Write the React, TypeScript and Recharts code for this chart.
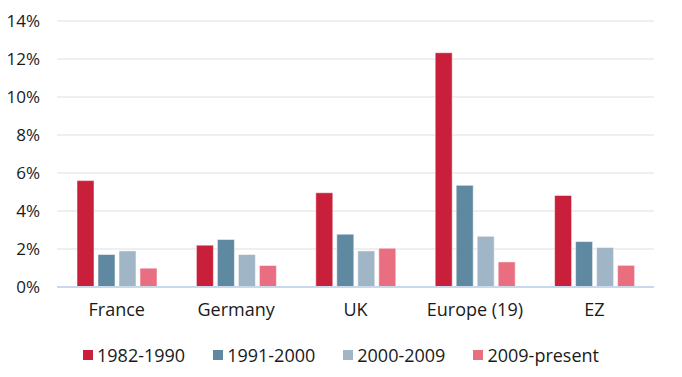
import { Bar, BarChart, CartesianGrid, Legend, XAxis, YAxis } from "recharts";

const categories = ["France", "Germany", "UK", "Europe (19)", "EZ"];
const p1982 = [5.6, 2.2, 4.96, 12.33, 4.82];
const p1991 = [1.71, 2.5, 2.78, 5.35, 2.39];
const p2000 = [1.9, 1.71, 1.9, 2.67, 2.08];
const p2009 = [0.99, 1.13, 2.04, 1.32, 1.14];
const yTicks = [0, 2, 4, 6, 8, 10, 12, 14];

const series = [
  { key: "a", name: "1982-1990", color: "#c8203a" },
  { key: "b", name: "1991-2000", color: "#5f88a1" },
  { key: "c", name: "2000-2009", color: "#a0b6c6" },
  { key: "d", name: "2009-present", color: "#e86e80" },
];

const data = categories.map((c, i) => ({ name: c, a: p1982[i], b: p1991[i], c: p2000[i], d: p2009[i] }));

const font = "'Open Sans', sans-serif";

function LegendBox() {
  return (
    <div style={{ display: "flex", justifyContent: "center", fontFamily: font, fontSize: 18, color: "#1a1a1a", lineHeight: "24px" }}>
      {series.map((s) => (
        <div key={s.key} style={{ display: "flex", alignItems: "center", margin: "0 14px" }}>
          <span style={{ width: 10, height: 10, background: s.color, marginRight: 4, display: "inline-block" }} />
          {s.name}
        </div>
      ))}
    </div>
  );
}

export default function App() {
  return (
    <div style={{ position: "absolute", left: 0, top: 0, background: "#fff" }}>
      <BarChart width={682} height={377} data={data} margin={{ top: 21, right: 28, left: 0, bottom: 10 }} barSize={17} barGap={4}>
        <CartesianGrid vertical={false} stroke="#efefef" strokeWidth={2} />
        <XAxis
          dataKey="name"
          tickLine={false}
          axisLine={{ stroke: "#c9d9ec", strokeWidth: 2 }}
          tickSize={0}
          tickMargin={16}
          height={56}
          tick={{ fill: "#1a1a1a", fontSize: 18, fontFamily: font }}
        />
        <YAxis
          domain={[0, 14]}
          ticks={yTicks}
          tickFormatter={(v) => `${v}%`}
          axisLine={false}
          tickLine={false}
          tickSize={0}
          tickMargin={17}
          width={57}
          tick={{ fill: "#1a1a1a", fontSize: 17, fontFamily: font }}
        />
        <Legend content={<LegendBox />} verticalAlign="bottom" height={24} wrapperStyle={{ left: 0, width: 682 }} />
        {series.map((s) => (
          <Bar key={s.key} dataKey={s.key} name={s.name} fill={s.color} stroke="#ffffff" strokeOpacity={0.5} isAnimationActive={false} />
        ))}
      </BarChart>
    </div>
  );
}
